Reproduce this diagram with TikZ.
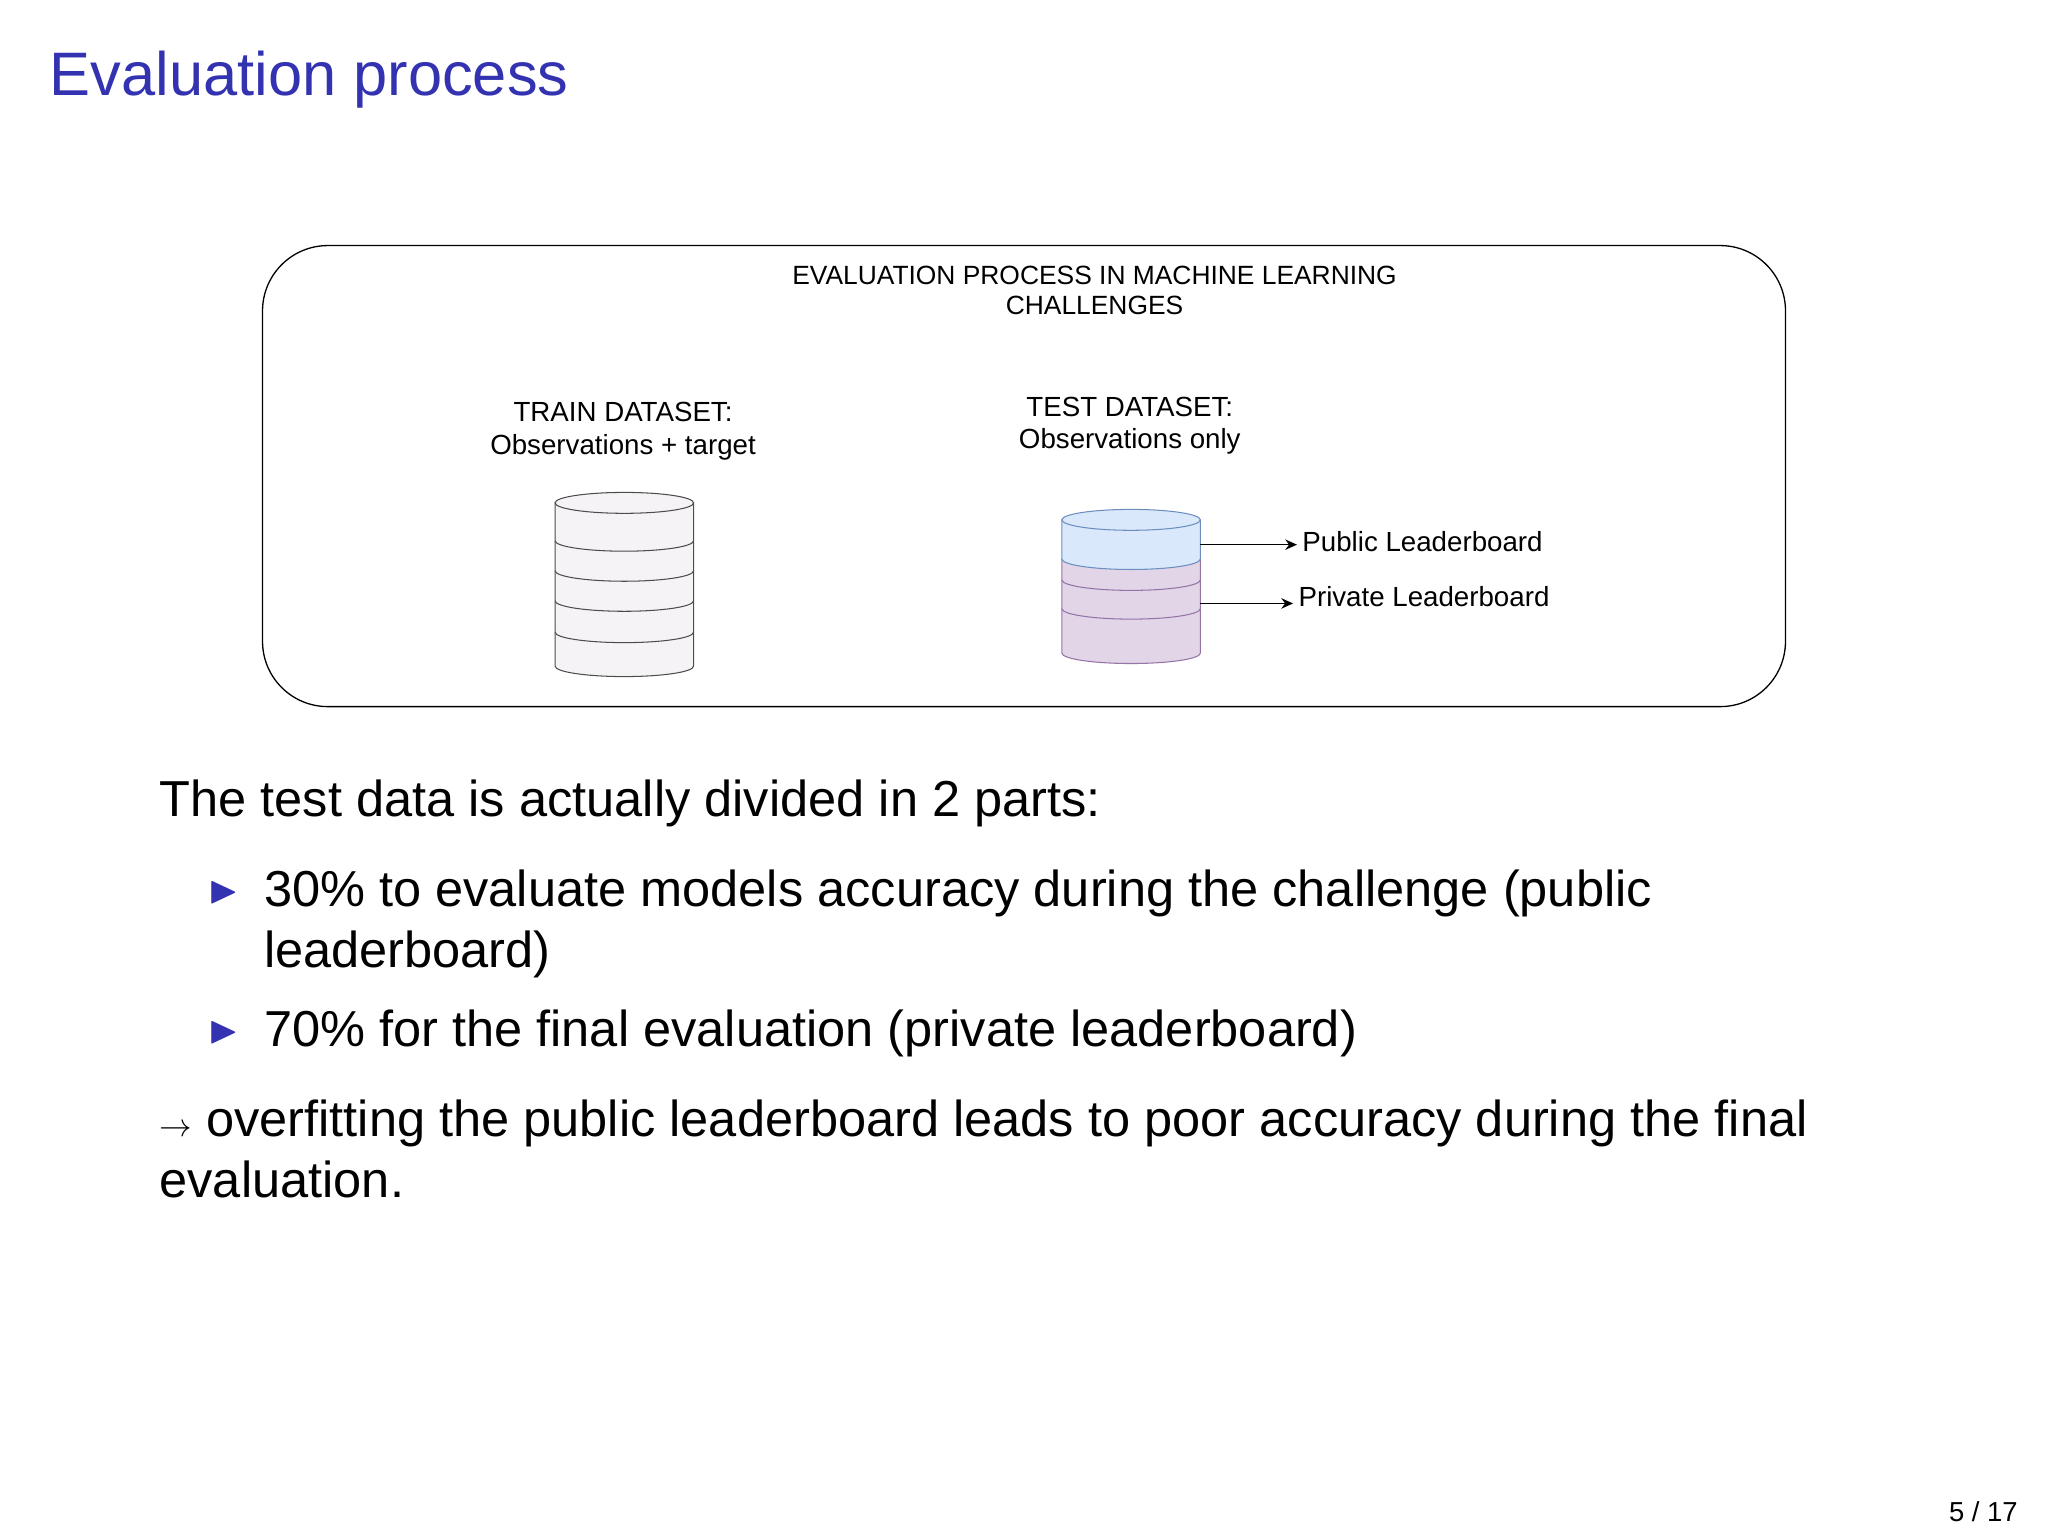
\documentclass[tikz,border=0pt]{standalone}
\usepackage{amssymb}
\usepackage{fontspec}
\setmainfont{Liberation Sans}
\usetikzlibrary{arrows.meta}
\definecolor{titleblue}{RGB}{51,51,178}
\definecolor{cylgray}{RGB}{245,243,246}
\definecolor{pubfill}{RGB}{218,232,252}
\definecolor{privfill}{RGB}{225,213,231}
\definecolor{publine}{RGB}{108,142,191}
\definecolor{privline}{RGB}{150,115,166}
\tikzset{
  small/.style={font=\fontsize{20.2}{23}\selectfont, align=center, inner sep=0pt},
  med/.style={font=\fontsize{21.2}{25}\selectfont, align=center, inner sep=0pt},
  big/.style={font=\fontsize{38.7}{44}\selectfont, anchor=base west, inner sep=0pt},
  arr/.style={-{Stealth[length=9pt,width=8pt]}, line width=1.1pt, shorten >=4pt},
  bul/.style={anchor=base, text=titleblue, font=\fontsize{30}{34}\selectfont, inner sep=0pt},
}
\newcommand{\cylbody}[6]{% x1,x2,ytop,ybot,fill,line
  \pgfmathsetmacro{\rx}{(#2-#1)/2}
  \filldraw[fill=#5,draw=#6,line width=0.8pt] (#1,#3) -- (#1,#4) arc[start angle=180,end angle=0,x radius=\rx,y radius=8] -- (#2,#3) -- cycle;
}
\newcommand{\cyldiv}[4]{\draw[#4,line width=0.8pt] (#1,#3) arc[start angle=180,end angle=0,x radius={(#2-#1)/2},y radius=8];}
\begin{document}
\begin{tikzpicture}[x=1pt,y=-1pt]
\useasboundingbox (0,0) rectangle (1568,1176);
\node[anchor=base west, inner sep=0pt, text=titleblue, font=\fontsize{47}{56}\selectfont] (title) at (38,73) {Evaluation process};
\draw[line width=1pt, rounded corners=50pt] (201,188) rectangle (1367,541);
\node[small] (hdr) at (838,222) {EVALUATION PROCESS IN MACHINE LEARNING\\CHALLENGES};
\node[med] (trainlbl) at (477,330) {TRAIN DATASET:\\Observations + target};
\node[med] (testlbl) at (865,326) {TEST DATASET:\\Observations only};
% train cylinder
\cylbody{425}{531}{385}{510}{cylgray}{black!70}
\foreach \y in {414,437,460,484} {\cyldiv{425}{531}{\y}{black!70}}
\filldraw[fill=cylgray,draw=black!70,line width=0.8pt] (478,385) ellipse[x radius=53,y radius=8];
% test cylinder
\cylbody{813}{919}{428}{500}{privfill}{privline}
\foreach \y in {444,466} {\cyldiv{813}{919}{\y}{privline}}
\filldraw[fill=pubfill,draw=publine,line width=0.8pt] (813,398) -- (813,428) arc[start angle=180,end angle=0,x radius=53,y radius=8] -- (919,398) -- cycle;
\filldraw[fill=pubfill,draw=publine,line width=0.8pt] (866,398) ellipse[x radius=53,y radius=8];
\coordinate (pubsrc) at (919,417);
\coordinate (privsrc) at (919,462);
\node[med, anchor=west] (pub) at (997,415) {Public Leaderboard};
\node[med, anchor=west] (priv) at (994,457) {Private Leaderboard};
\draw[arr] (pubsrc) -- (pub.west |- pubsrc);
\draw[arr] (privsrc) -- (priv.west |- privsrc);
% body text
\node[big] (l1) at (122,625) {The test data is actually divided in 2 parts:};
\node[bul] (b1) at (171,691) {$\blacktriangleright$};
\node[big] (l2) at (202,694) {30\% to evaluate models accuracy during the challenge (public};
\node[big] (l3) at (202,741) {leaderboard)};
\node[bul] (b2) at (171,798) {$\blacktriangleright$};
\node[big] (l4) at (202,801) {70\% for the final evaluation (private leaderboard)};
\node[big] (l5) at (122,870) {\fontsize{50}{50}\selectfont$\rightarrow$\fontsize{38.7}{44}\selectfont\ overfitting the public leaderboard leads to poor accuracy during the final};
\node[big] (l6) at (122,917) {evaluation.};
\node[anchor=base east, inner sep=0pt, font=\fontsize{21}{25}\selectfont] (pg) at (1545,1165) {5 / 17};
\end{tikzpicture}
\end{document}
